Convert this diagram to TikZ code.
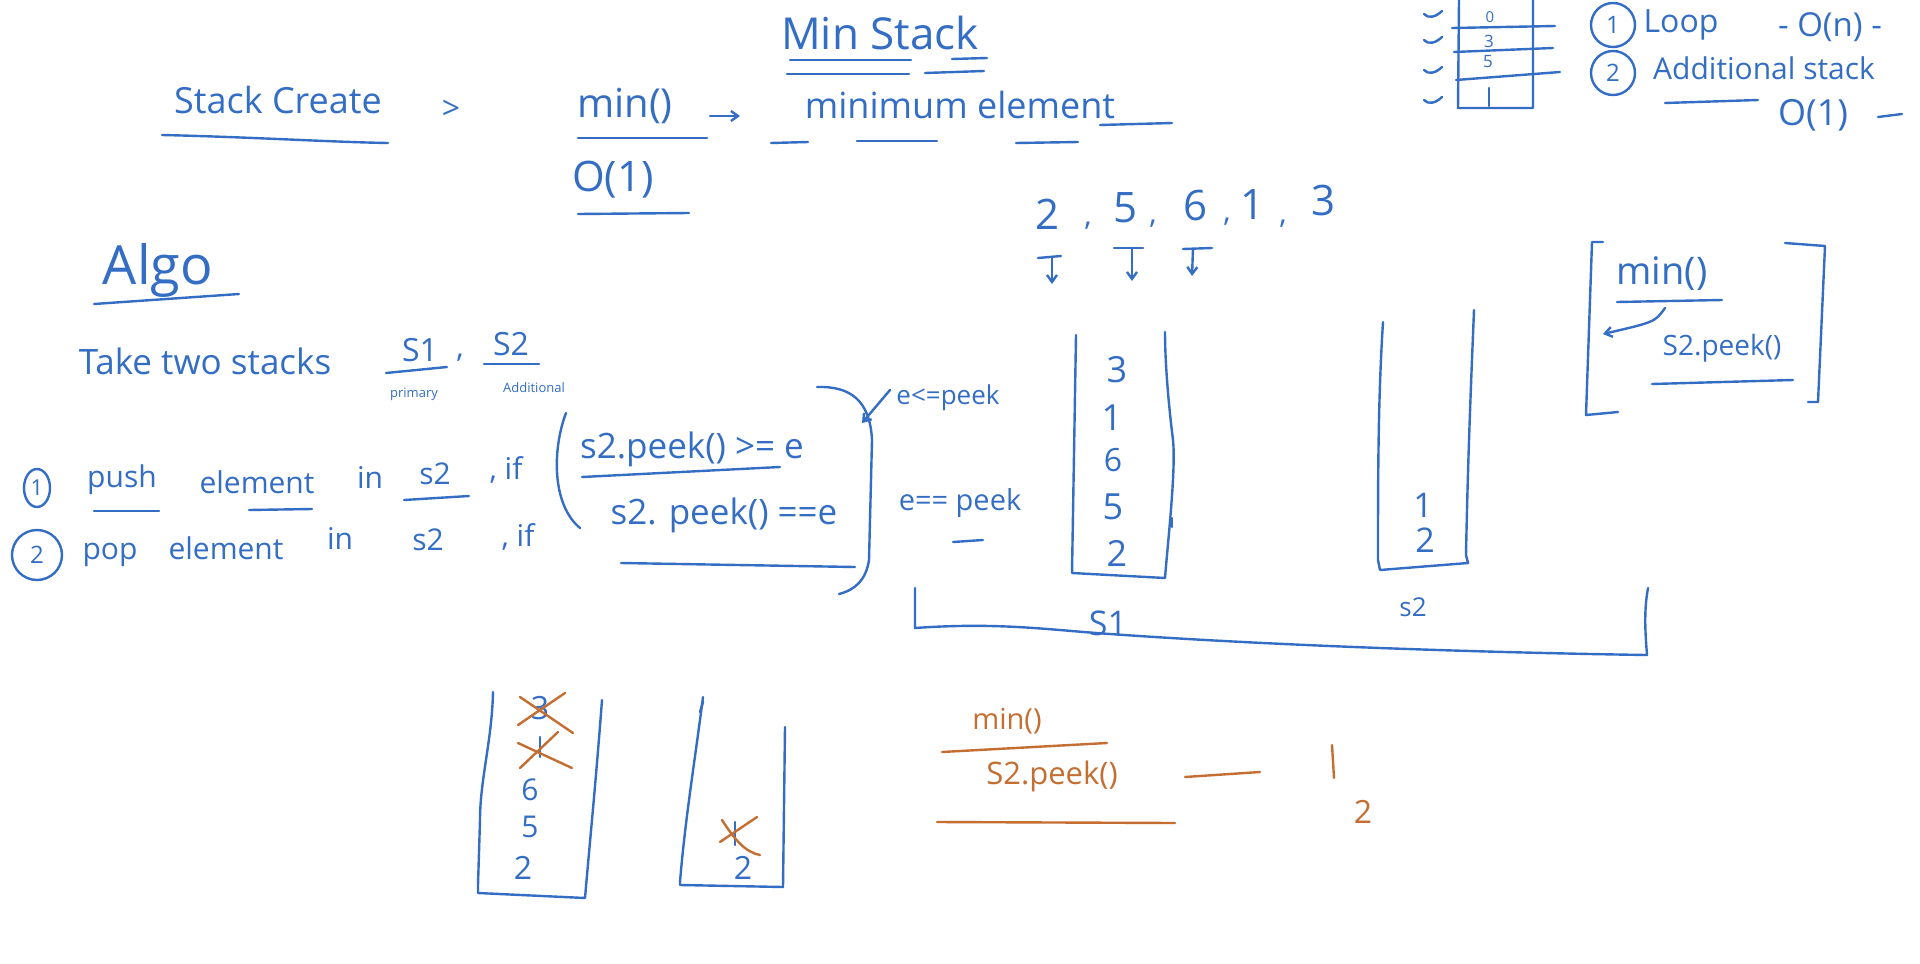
\documentclass[tikz,border=0pt]{standalone}
\usepackage{fontspec}
\setmainfont{Open Sans}
\usetikzlibrary{arrows.meta}
\definecolor{ink}{RGB}{52,110,196}
\definecolor{rust}{RGB}{196,110,50}
\tikzset{
 pen/.style={draw=ink, line width=2.4pt, line cap=round, line join=round},
 open/.style={draw=rust, line width=2.4pt, line cap=round, line join=round},
 hw/.style={text=ink, inner sep=0pt, font=\fontsize{#1}{#1}\selectfont},
 ho/.style={text=rust, inner sep=0pt, font=\fontsize{#1}{#1}\selectfont},
 ring/.style={draw=ink, line width=2.4pt, circle, inner sep=0pt, text=ink, font=\fontsize{#1}{#1}\selectfont},
 barb/.style={-{Straight Barb[length=7pt,width=10pt]}},
}
\begin{document}
\begin{tikzpicture}[x=1pt,y=-1pt]
\useasboundingbox (0,0) rectangle (1920,964);
\fill[white] (0,0) rectangle (1920,964);

% ---------- top left ----------
\node[hw=36] (stackcreate) at (278,100) {Stack Create};
\draw[pen] (162,135) .. controls (250,137) and (330,142) .. (388,143);
\node[hw=32] (gt) at (451,110) {>};
\node[hw=40] (min) at (625,106) {min()};
\draw[pen] (578,138) -- (707,138);
\node[hw=42] (o1) at (613,180) {O(1)};
\draw[pen] (578,214) -- (689,213);
\coordinate (ar1) at (710,116);
\coordinate (ar2) at (740,116);
\draw[pen,barb] (ar1) -- (ar2);

\node[hw=44] (title) at (880,33) {Min Stack};
\draw[pen] (790,60) -- (911,60);
\draw[pen] (952,59) -- (987,58);
\draw[pen] (787,74) -- (909,74);
\draw[pen] (925,73) -- (984,71);

\node[hw=36] (minel) at (960,105) {minimum element};
\draw[pen] (771,143) -- (808,142);
\draw[pen] (857,141) -- (937,141);
\draw[pen] (1016,143) -- (1078,142);
\draw[pen] (1100,125) -- (1172,123);

% ---------- top right ----------
\draw[pen] (1459,0) -- (1458,108) -- (1533,108) -- (1533,0);
\draw[pen] (1452,28) -- (1555,26);
\draw[pen] (1454,52) -- (1553,48);
\draw[pen] (1456,80) -- (1560,72);
\node[hw=15] (t0) at (1490,17) {0};
\node[hw=17] (t3) at (1489,41) {3};
\node[hw=17] (t5) at (1488,62) {5};
\draw[pen] (1489,88) -- (1489,106);
\foreach \yy in {14,40,70,100} {
  \draw[pen] (1424,\yy) .. controls (1428,\yy+5) and (1436,\yy+3) .. (1442,\yy-3);
}
\node[ring=24, minimum size=44pt] (c1) at (1613,25) {1};
\node[hw=32] (loop) at (1681,25) {Loop};
\node[hw=33] (on) at (1830,27) {- O(n) -};
\node[ring=24, minimum size=44pt] (c2) at (1613,73) {2};
\node[hw=30] (addl) at (1764,68) {Additional stack};
\draw[pen] (1665,103) -- (1758,100);
\node[hw=36] (o1b) at (1813,115) {O(1)};
\draw[pen] (1878,117) -- (1902,114);

% ---------- Algo ----------
\node[hw=54] (algo) at (158,270) {Algo};
\draw[pen] (94,304) -- (239,294);
\node[hw=35] (take) at (205,361) {Take two stacks};
\node[hw=32] (s1) at (420,350) {S1};
\draw[pen] (386,373) -- (447,367);
\node[hw=13] (primary) at (414,394) {primary};
\node[hw=30] (comma) at (460,358) {,};
\node[hw=32] (s2) at (511,344) {S2};
\draw[pen] (484,364) -- (539,364);
\node[hw=13] (addit) at (534,388) {Additional};

% ---------- push / pop ----------
\draw[pen] (37,488) ellipse (13 and 19);
\node[hw=22] (n1) at (37,488) {1};
\node[hw=30] (push) at (122,480) {push};
\draw[pen] (94,511) -- (159,511);
\node[hw=30] (elem1) at (257,482) {element};
\draw[pen] (249,510) -- (312,509);
\node[hw=30] (in1) at (370,477) {in};
\node[hw=30] (s2a) at (435,474) {s2};
\draw[pen] (404,500) -- (469,496);
\node[hw=30] (if1) at (506,470) {, if};

\draw[pen] (37,555) circle (25);
\node[hw=24] (n2) at (37,555) {2};
\node[hw=30] (pop) at (110,555) {pop};
\node[hw=30] (elem2) at (226,548) {element};
\node[hw=30] (in2) at (340,538) {in};
\node[hw=30] (s2b) at (428,540) {s2};
\node[hw=30] (if2) at (518,537) {, if};

% ---------- condition ----------
\draw[pen] (566,413) .. controls (552,450) and (552,505) .. (580,528);
\node[hw=35] (cond1) at (692,449) {s2.peek() >= e};
\draw[pen] (582,477) -- (780,467);
\node[hw=35] (cond2) at (724,515) {s2. peek() ==e};
\draw[pen] (621,563) -- (855,567);
\draw[pen] (817,387) .. controls (850,386) and (870,400) .. (872,440)
  -- (869,560) .. controls (866,580) and (855,590) .. (839,594);
\node[hw=26] (ele) at (948,398) {e<=peek};
\coordinate (ea) at (890,390);
\coordinate (eb) at (862,423);
\draw[pen,barb] (ea) -- (eb);
\node[hw=29] (eeq) at (960,503) {e== peek};
\draw[pen] (953,542) -- (983,540);

% ---------- sequence ----------
\node[hw=42] (q2) at (1047,214) {2};
\node[hw=30] (k1) at (1088,226) {,};
\node[hw=42] (q5) at (1125,208) {5};
\node[hw=30] (k2) at (1153,224) {,};
\node[hw=42] (q6) at (1195,205) {6};
\node[hw=30] (k3) at (1227,222) {,};
\node[hw=42] (q1) at (1252,205) {1};
\node[hw=30] (k4) at (1283,224) {,};
\node[hw=42] (q3) at (1323,200) {3};
\draw[pen] (1038,258) -- (1061,256);
\draw[pen,barb] (1052,257) -- (1052,284);
\draw[pen] (1114,248) -- (1143,248);
\draw[pen,barb] (1132,248) -- (1132,281);
\draw[pen] (1183,249) -- (1212,248);
\draw[pen,barb] (1193,249) -- (1192,276);

% ---------- stack s1 ----------
\draw[pen] (1076,335) -- (1072,573) -- (1165,578)
  .. controls (1168,540) and (1176,470) .. (1173,440)
  .. controls (1168,400) and (1165,360) .. (1165,332);
\draw[pen] (1172,518) -- (1172,527);
\node[hw=36] (a3) at (1117,370) {3};
\node[hw=36] (a1) at (1112,418) {1};
\node[hw=32] (a6) at (1113,460) {6};
\node[hw=36] (a5) at (1113,507) {5};
\node[hw=36] (a2) at (1117,553) {2};

% ---------- stack s2 ----------
\draw[pen] (1383,322) .. controls (1378,400) and (1378,480) .. (1378,560)
  -- (1380,570) -- (1468,563) -- (1466,555) .. controls (1468,450) and (1472,360) .. (1474,310);
\node[hw=34] (b1) at (1423,505) {1};
\node[hw=34] (b2) at (1425,540) {2};
\node[hw=26] (s2lab) at (1413,607) {s2};

% ---------- big bracket ----------
\draw[pen] (915,588) -- (915,628) .. controls (1000,622) and (1050,630) .. (1110,634)
  .. controls (1250,644) and (1450,652) .. (1647,655)
  .. controls (1645,630) and (1644,610) .. (1648,588);
\node[hw=34] (s1lab) at (1108,623) {S1};

% ---------- min() bracket right ----------
\draw[pen] (1603,242) -- (1592,242) -- (1586,415) -- (1618,412);
\draw[pen] (1785,243) -- (1825,246) -- (1818,402) -- (1808,402);
\node[hw=38] (minr) at (1662,274) {min()};
\draw[pen] (1617,302) -- (1722,300);
\coordinate (ma) at (1665,308);
\coordinate (mb) at (1603,334);
\draw[pen,barb] (ma) .. controls (1655,322) .. (mb);
\node[hw=28] (peekr) at (1722,348) {S2.peek()};
\draw[pen] (1652,384) -- (1793,380);

% ---------- bottom stacks ----------
\draw[pen] (493,692) .. controls (492,740) and (480,780) .. (480,820)
  -- (478,885) -- (478,893) -- (585,898)
  .. controls (590,840) and (596,780) .. (602,700);
\node[hw=32] (c3) at (540,708) {3};
\draw[pen] (540,737) -- (540,757);
\node[hw=30] (c6) at (530,790) {6};
\node[hw=30] (c5) at (530,827) {5};
\node[hw=32] (c2n) at (523,868) {2};
\draw[open] (518,725) -- (565,693);
\draw[open] (520,697) -- (573,733);
\draw[open] (520,768) -- (558,732);
\draw[open] (518,743) -- (572,768);

\draw[pen] (703,697) .. controls (695,760) and (685,820) .. (680,882)
  -- (680,885) -- (783,887) -- (785,727);
\draw[pen] (700,712) -- (703,702);
\draw[pen] (735,822) -- (735,845);
\node[hw=32] (d2) at (743,868) {2};
\draw[open] (720,842) -- (757,817);
\draw[open] (722,820) .. controls (735,840) and (745,852) .. (760,855);

% ---------- orange note ----------
\node[ho=29] (omin) at (1007,721) {min()};
\draw[open] (942,752) -- (1107,743);
\node[ho=31] (opeek) at (1052,776) {S2.peek()};
\draw[open] (937,822) -- (1175,823);
\draw[open] (1185,777) -- (1260,772);
\draw[open] (1332,745) -- (1334,778);
\node[ho=32] (o2) at (1363,812) {2};
\end{tikzpicture}
\end{document}
